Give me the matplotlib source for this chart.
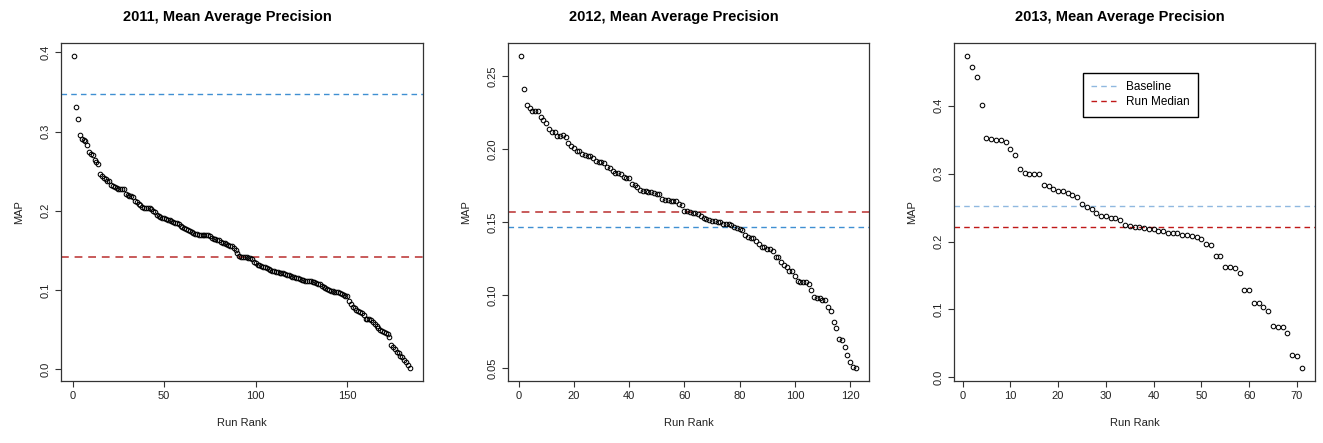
import matplotlib.pyplot as plt
import numpy as np
from matplotlib.ticker import FormatStrFormatter

plt.rcParams['font.family'] = ['Liberation Sans', 'DejaVu Sans']

# MAP per run, sorted by rank
map_2011 = [
    0.396, 0.331, 0.316, 0.296, 0.291, 0.289, 0.288, 0.283, 0.274, 0.272,
    0.270, 0.264, 0.262, 0.259, 0.246, 0.244, 0.241, 0.240, 0.238, 0.237,
    0.233, 0.231, 0.230, 0.229, 0.228, 0.228, 0.227, 0.227, 0.221, 0.220,
    0.219, 0.219, 0.218, 0.212, 0.211, 0.209, 0.207, 0.205, 0.204, 0.203,
    0.203, 0.203, 0.202, 0.200, 0.198, 0.195, 0.193, 0.192, 0.191, 0.191,
    0.190, 0.189, 0.188, 0.187, 0.186, 0.185, 0.184, 0.183, 0.181, 0.180,
    0.178, 0.177, 0.176, 0.174, 0.173, 0.172, 0.171, 0.171, 0.170, 0.170,
    0.170, 0.170, 0.169, 0.169, 0.168, 0.166, 0.165, 0.164, 0.163, 0.163,
    0.161, 0.159, 0.159, 0.158, 0.157, 0.156, 0.155, 0.153, 0.151, 0.147,
    0.143, 0.142, 0.142, 0.142, 0.142, 0.141, 0.141, 0.139, 0.136, 0.134,
    0.132, 0.131, 0.130, 0.129, 0.129, 0.128, 0.126, 0.125, 0.124, 0.124,
    0.123, 0.123, 0.122, 0.121, 0.121, 0.120, 0.119, 0.119, 0.118, 0.117,
    0.116, 0.115, 0.115, 0.114, 0.113, 0.113, 0.112, 0.111, 0.111, 0.111,
    0.110, 0.110, 0.109, 0.108, 0.107, 0.105, 0.104, 0.102, 0.101, 0.100,
    0.099, 0.099, 0.098, 0.098, 0.097, 0.096, 0.095, 0.094, 0.093, 0.092,
    0.086, 0.082, 0.079, 0.077, 0.075, 0.073, 0.072, 0.071, 0.068, 0.064,
    0.063, 0.063, 0.062, 0.060, 0.057, 0.054, 0.052, 0.049, 0.048, 0.047,
    0.046, 0.044, 0.041, 0.031, 0.028, 0.025, 0.022, 0.020, 0.017, 0.015,
    0.012, 0.009, 0.006, 0.001]

map_2012 = [
    0.264, 0.241, 0.230, 0.228, 0.226, 0.226, 0.226, 0.222, 0.220, 0.218,
    0.214, 0.212, 0.2115, 0.209, 0.209, 0.2095, 0.208, 0.204, 0.202, 0.201,
    0.199, 0.1985, 0.197, 0.196, 0.195, 0.195, 0.194, 0.192, 0.191, 0.191,
    0.1905, 0.188, 0.187, 0.185, 0.184, 0.184, 0.183, 0.181, 0.180, 0.180,
    0.176, 0.1755, 0.174, 0.172, 0.1715, 0.1715, 0.171, 0.1705, 0.170, 0.169,
    0.169, 0.166, 0.165, 0.165, 0.1645, 0.1645, 0.1645, 0.1625, 0.162, 0.158,
    0.1575, 0.157, 0.156, 0.156, 0.1555, 0.1545, 0.153, 0.152, 0.1515, 0.151,
    0.151, 0.1505, 0.1505, 0.149, 0.149, 0.149, 0.148, 0.147, 0.146, 0.1455,
    0.145, 0.141, 0.140, 0.1395, 0.139, 0.137, 0.135, 0.133, 0.133, 0.132,
    0.132, 0.1305, 0.126, 0.126, 0.123, 0.121, 0.1195, 0.1165, 0.1165, 0.113,
    0.110, 0.109, 0.109, 0.109, 0.1075, 0.104, 0.099, 0.098, 0.098, 0.097,
    0.0965, 0.092, 0.089, 0.0815, 0.078, 0.070, 0.0695, 0.065, 0.059, 0.0545,
    0.051, 0.050]

map_2013 = [
    0.474, 0.457, 0.442, 0.401, 0.352, 0.351, 0.350, 0.3495, 0.346, 0.336,
    0.327, 0.307, 0.301, 0.300, 0.2995, 0.299, 0.284, 0.282, 0.277, 0.275,
    0.274, 0.272, 0.268, 0.265, 0.256, 0.251, 0.248, 0.242, 0.238, 0.237,
    0.235, 0.235, 0.231, 0.2245, 0.2225, 0.222, 0.2216, 0.2196, 0.219, 0.219,
    0.216, 0.215, 0.213, 0.2127, 0.212, 0.210, 0.209, 0.208, 0.207, 0.204,
    0.196, 0.195, 0.179, 0.179, 0.163, 0.162, 0.161, 0.153, 0.129, 0.128,
    0.110, 0.109, 0.104, 0.098, 0.076, 0.0735, 0.0735, 0.065, 0.033, 0.032,
    0.013]

years = ["2011", "2012", "2013"]
baselines = [0.347, 0.147, 0.253]
x_ticks = [np.arange(0, 151, 50), np.arange(0, 121, 20), np.arange(0, 71, 10)]
y_ticks = [np.arange(0, 0.41, 0.1), np.arange(0.05, 0.26, 0.05), np.arange(0, 0.41, 0.1)]
y_fmt = ['%.1f', '%.2f', '%.1f']

fig = plt.figure(figsize=(13.23, 4.43), dpi=100)
boxes = [(61, 423), (508, 869), (954, 1315)]

for k, data in enumerate([map_2011, map_2012, map_2013]):
    x0, x1 = boxes[k]
    ax = fig.add_axes([x0 / 1323, 1 - 381 / 443, (x1 - x0) / 1323, (381 - 43) / 443])
    y = np.array(data)
    x = np.arange(1, len(y) + 1)
    if k < 2:
        base_c, med_c, med_lw = '#3f8fd2', '#c85a5a', 1.4
    else:
        base_c, med_c, med_lw = '#8fb8e0', '#c01818', 1.0
    ax.axhline(baselines[k], color=base_c, ls=(0, (4, 3)), lw=1.0, label='Baseline')
    ax.axhline(np.median(y), color=med_c, ls=(0, (4, 3)), lw=med_lw, label='Run Median')
    ax.plot(x, y, 'o', mfc='none', mec='black', ms=3.3, mew=0.75)

    # R-style 4% padding
    xr = len(y) - 1
    ax.set_xlim(1 - 0.04 * xr, len(y) + 0.04 * xr)
    yr = y.max() - y.min()
    ax.set_ylim(y.min() - 0.04 * yr, y.max() + 0.04 * yr)

    ax.set_xticks(x_ticks[k])
    ax.set_yticks(y_ticks[k])
    ax.yaxis.set_major_formatter(FormatStrFormatter(y_fmt[k]))
    ax.tick_params(labelsize=8, length=4, width=0.8, colors='#333333', labelcolor='#222222')
    for lab in ax.get_yticklabels():
        lab.set_rotation(90)
        lab.set_va('center')
    for sp in ax.spines.values():
        sp.set_linewidth(0.9)
        sp.set_color('#333333')

    ax.set_title(years[k] + ", Mean Average Precision", fontsize=10.5, fontweight='bold',
                 pad=16, x=0.46)
    ax.set_xlabel("Run Rank", fontsize=8, labelpad=12, color='#222222')
    ax.set_ylabel("MAP", fontsize=8, labelpad=12, color='#222222')

    if k == 2:
        ax.legend(loc='upper left', bbox_to_anchor=(0.34, 0.93), fontsize=8.5,
                  frameon=True, fancybox=False, edgecolor='black', framealpha=1,
                  handlelength=2.2, borderpad=0.7, labelspacing=0.3)

plt.savefig("out.png", dpi=100)
